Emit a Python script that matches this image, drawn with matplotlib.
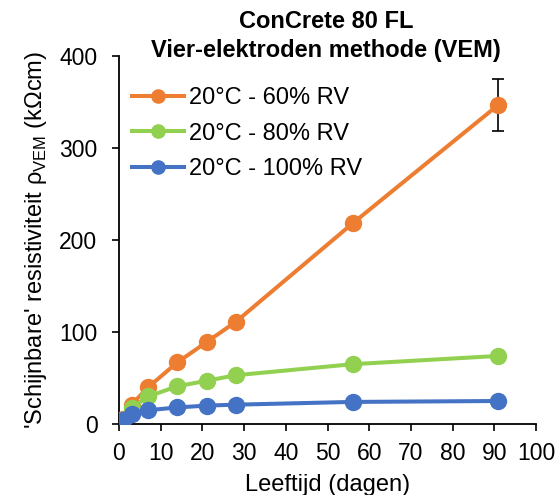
import matplotlib
matplotlib.use("Agg")
import matplotlib.pyplot as plt
from matplotlib.lines import Line2D

plt.rcParams['font.family'] = ['Liberation Sans', 'DejaVu Sans']
plt.rcParams['mathtext.fontset'] = 'custom'
plt.rcParams['mathtext.rm'] = 'Liberation Sans'

days = [1, 3, 7, 14, 21, 28, 56, 91]
rv60 = [5, 21, 40, 67, 89, 111, 218, 347]
rv80 = [4, 17, 30, 41, 47, 53, 65, 74]
rv100 = [4, 11, 15, 18, 20, 21, 24, 25]
err60 = [0, 0, 0, 0, 0, 0, 0, 28.5]
labels = ['20°C - 60% RV', '20°C - 80% RV', '20°C - 100% RV']
colors = ['#ED7D31', '#92D050', '#4472C4']
title_lines = ['ConCrete 80 FL', 'Vier-elektroden methode (VEM)']

W, H = 558, 495
fig = plt.figure(figsize=(W / 100, H / 100), dpi=100)
L, R, T, B = 119, 536, 56, 424
ax = fig.add_axes([L / W, 1 - B / H, (R - L) / W, (B - T) / H])

ax.errorbar(days, rv60, yerr=err60, color=colors[0], lw=2.9, marker='o', ms=11.5,
            ecolor='black', elinewidth=1.2, capsize=4.5, capthick=1.2, zorder=3)
ax.plot(days, rv80, color=colors[1], lw=2.9, marker='o', ms=11.5, zorder=4)
ax.plot(days, rv100, color=colors[2], lw=2.9, marker='o', ms=11.5, zorder=5)

ax.set_xlim(0, 100)
ax.set_ylim(0, 400)
ax.set_xticks(range(0, 101, 10))
ax.set_yticks(range(0, 401, 100))
for s in ['top', 'right']:
    ax.spines[s].set_visible(False)
for s in ['left', 'bottom']:
    ax.spines[s].set_linewidth(1.3)
ax.tick_params(labelsize=16.5, length=5, width=1.2)
ax.tick_params(axis='x', pad=8)
ax.tick_params(axis='y', pad=10.5)
ax.set_xlabel('Leeftijd (dagen)', fontsize=17, labelpad=6.5)
ax.set_ylabel(r"'Schijnbare' resistiviteit ρ$_\mathregular{VEM}$ (kΩcm)", fontsize=17, labelpad=7)

cx = (L + R) / 2 / W
fig.text(cx - 0.003, 1 - 22 / H, title_lines[0], ha='center', va='center', fontsize=17, fontweight='bold')
fig.text(cx - 0.003, 1 - 50 / H, title_lines[1], ha='center', va='center', fontsize=17, fontweight='bold')

handles = [Line2D([], [], color=c, lw=2.9, marker='o', ms=9.5) for c in colors]
ax.legend(handles, labels, loc='upper left', bbox_to_anchor=((132 - L) / (R - L), (B - 87) / (B - T)),
          frameon=False, fontsize=17, handlelength=2.2, handletextpad=0.2, labelspacing=0.58,
          borderpad=0, borderaxespad=0)

fig.savefig('out.png', dpi=100)
